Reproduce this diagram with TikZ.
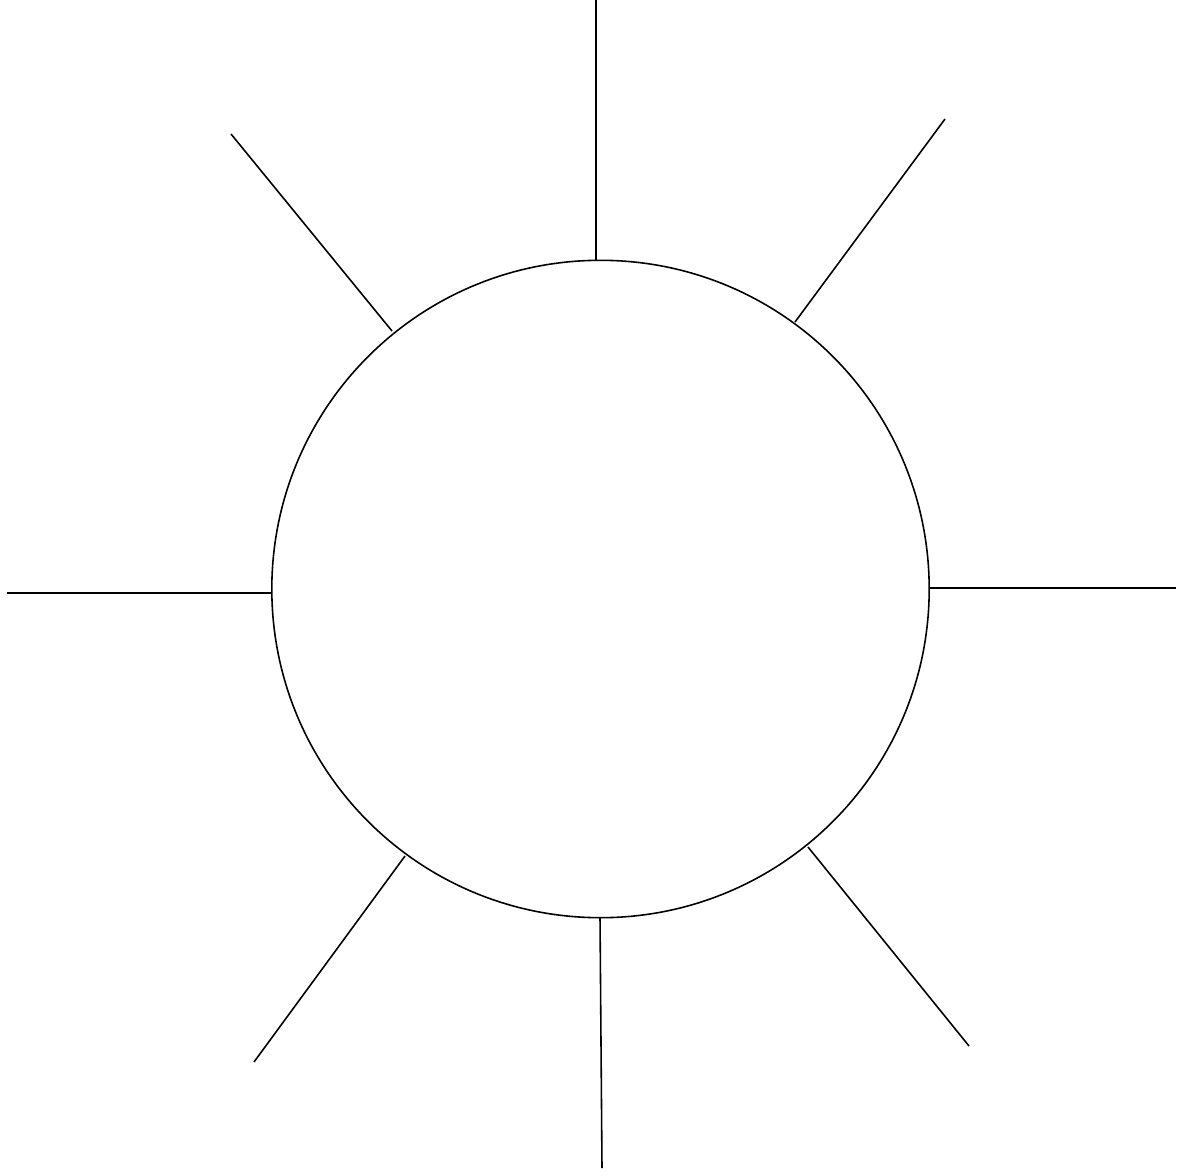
\documentclass[tikz,border=0pt]{standalone}
\begin{document}
\begin{tikzpicture}[x=0.01cm,y=-0.01cm,spoke/.style={line width=0.45pt,black}]
\useasboundingbox (0,0) rectangle (1191,1176);
\fill[white] (0,0) rectangle (1191,1176);
\node[draw,circle,line width=0.45pt,minimum size=6.57cm,inner sep=0pt] (c) at (600.5,589) {};
\coordinate (t1) at (596,0);      \coordinate (t2) at (596,261);
\coordinate (ur1) at (945,119);   \coordinate (ur2) at (795,322);
\coordinate (r1) at (929,588);    \coordinate (r2) at (1176,588);
\coordinate (lr1) at (808,847);   \coordinate (lr2) at (969,1046);
\coordinate (b1) at (600,917);    \coordinate (b2) at (602,1168);
\coordinate (ll1) at (405,856);   \coordinate (ll2) at (254,1062);
\coordinate (l1) at (7,593);      \coordinate (l2) at (272,593);
\coordinate (ul1) at (231,134);   \coordinate (ul2) at (392,331);
\draw[spoke] (t1) -- (t2);
\draw[spoke] (ur1) -- (ur2);
\draw[spoke] (r1) -- (r2);
\draw[spoke] (lr1) -- (lr2);
\draw[spoke] (b1) -- (b2);
\draw[spoke] (ll1) -- (ll2);
\draw[spoke] (l1) -- (l2);
\draw[spoke] (ul1) -- (ul2);
\end{tikzpicture}
\end{document}
